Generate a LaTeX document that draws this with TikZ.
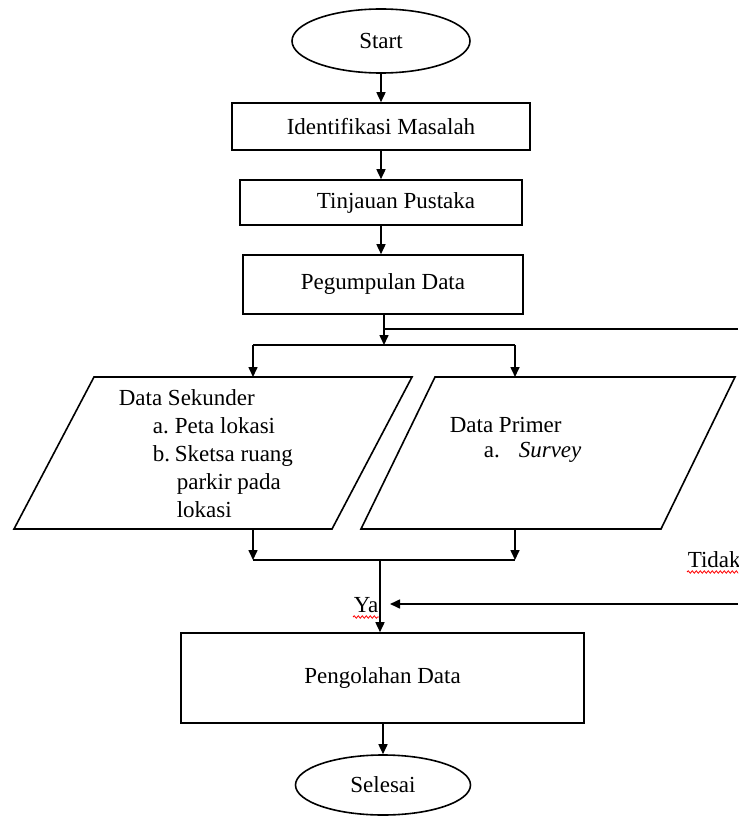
\documentclass[tikz,border=0pt]{standalone}
\usepackage{fontspec}
\setmainfont{Liberation Serif}
\usetikzlibrary{shapes.geometric,arrows.meta,decorations.pathmorphing}

\begin{document}
\begin{tikzpicture}[x=0.5pt,y=-0.5pt,line width=0.8pt,
    every node/.style={font=\fontsize{11.5}{14}\selectfont},
    box/.style={draw,rectangle,inner sep=0pt},
    term/.style={draw,ellipse,inner sep=0pt},
    txt/.style={anchor=base west,inner sep=0pt},
    arr/.style={-{Triangle[length=5pt,width=4.5pt]}},
    wavy/.style={red,line width=0.4pt,decorate,
      decoration={snake,segment length=2pt,amplitude=0.6pt}}]
    \path[use as bounding box,clip] (0,0) rectangle (738,818);

    % main column
    \node[term,minimum width=89pt,minimum height=32pt] (start) at (381,41) {Start};
    \node[box,minimum width=149pt,minimum height=23.5pt] (ident) at (381,126.5) {Identifikasi Masalah};
    \node[box,minimum width=141pt,minimum height=22.5pt] (tinjau) at (381,202.5) {\hspace*{15pt}Tinjauan Pustaka};
    \node[box,minimum width=140pt,minimum height=29.5pt] (kumpul) at (383,284.5) {Pegumpulan Data};
    \node[box,minimum width=201.5pt,minimum height=45pt] (olah) at (382.5,678) {Pengolahan Data};
    \node[term,minimum width=87.5pt,minimum height=30pt] (selesai) at (383,785) {Selesai};

    % data boxes
    \draw (94,377) -- (412,377) -- (332,529) -- (14,529) -- cycle;
    \draw (435,377) -- (735,377) -- (661,529) -- (361,529) -- cycle;
    \node[txt] (sek) at (118,405) {Data Sekunder};
    \node[txt] (sekA) at (152,433) {\makebox[11pt][l]{a.}Peta lokasi};
    \node[txt] (sekB) at (152,461) {\makebox[11pt][l]{b.}Sketsa ruang};
    \node[txt] (sekB2) at (176,489) {parkir pada};
    \node[txt] (sekB3) at (176,517) {lokasi};
    \node[txt] (prim) at (449,432) {Data Primer};
    \node[txt] (primA) at (483,457) {\makebox[17.5pt][l]{a.}\textit{Survey}};

    \coordinate (split) at (384,345);
    \coordinate (splitL) at (253,345);
    \coordinate (splitR) at (515,345);
    \coordinate (sekIn) at (253,377);
    \coordinate (primIn) at (515,377);
    \coordinate (sekOut) at (253,529);
    \coordinate (primOut) at (515,529);
    \coordinate (joinL) at (253,560);
    \coordinate (joinR) at (515,560);
    \coordinate (join) at (380,560);
    \coordinate (loopTop) at (738,329);
    \coordinate (loopBot) at (738,604);
    \coordinate (loopEnd) at (390,604);

    % connectors
    \draw[arr] (start.south) -- (ident.north);
    \draw[arr] (ident.south) -- (tinjau.north);
    \draw[arr] (tinjau.south) -- (tinjau.south |- kumpul.north);
    \draw[arr] (kumpul.south -| split) -- (split);
    \draw (split |- loopTop) -- (loopTop);
    \draw (splitL) -- (splitR);
    \draw[arr] (splitL) -- (sekIn);
    \draw[arr] (splitR) -- (primIn);
    \draw[arr] (sekOut) -- (joinL);
    \draw[arr] (primOut) -- (joinR);
    \draw (joinL) -- (joinR);
    \draw[arr] (join) -- (olah.north -| join);
    \draw[arr] (loopBot) -- (loopEnd);
    \draw[arr] (olah.south -| selesai) -- (selesai.north);

    % labels
    \node[txt] (ya) at (353,612) {Ya};
    \draw[wavy] ([yshift=-2.5pt]ya.base west) -- ([yshift=-2.5pt]ya.base east);
    \node[txt] (tidak) at (687,567) {Tidak};
    \draw[wavy] ([yshift=-2.5pt]tidak.base west) -- ([yshift=-2.5pt]tidak.base east);
\end{tikzpicture}
\end{document}
